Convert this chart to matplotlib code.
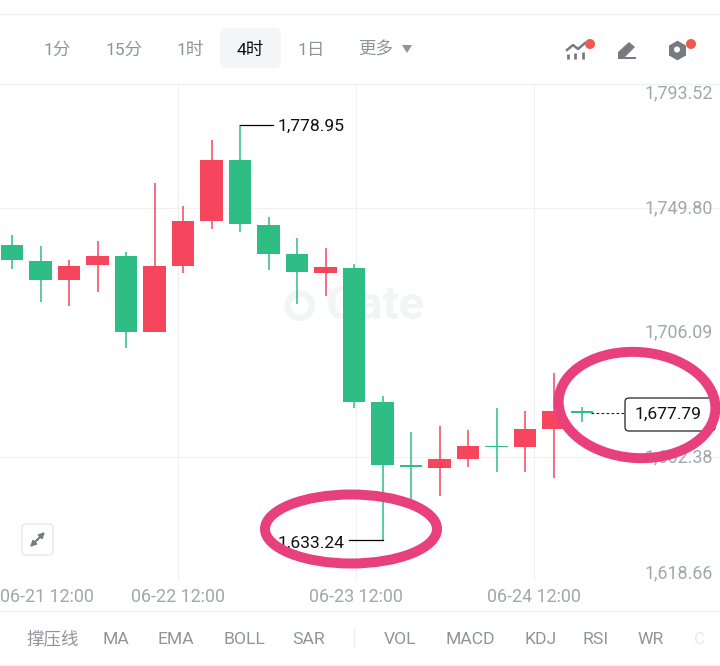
import numpy as np
import matplotlib
matplotlib.use('Agg')
import matplotlib.pyplot as plt
from matplotlib.patches import Ellipse, FancyBboxPatch, Circle, Polygon

plt.rcParams['font.family'] = ['Roboto', 'Noto Sans CJK SC', 'DejaVu Sans']

opens = [1736.8, 1731.3, 1724.5, 1729.7, 1733.0, 1706.2, 1729.4, 1745.3, 1766.5, 1743.9, 1733.6,
         1727.0, 1728.9, 1681.7, 1659.6, 1658.7, 1661.7, 1666.3, 1665.9, 1672.4, 1678.5]
highs = [1740.3, 1736.5, 1731.6, 1738.3, 1734.4, 1758.5, 1750.5, 1773.7, 1778.95, 1746.6, 1739.2,
         1735.7, 1730.2, 1683.8, 1671.1, 1673.3, 1671.9, 1679.5, 1678.6, 1691.9, 1680.1]
lows = [1728.3, 1716.9, 1715.5, 1720.4, 1700.6, 1706.2, 1727.0, 1742.5, 1741.3, 1728.2, 1716.1,
        1719.0, 1679.7, 1633.24, 1644.1, 1648.9, 1659.0, 1657.1, 1657.3, 1655.0, 1674.6]
closes = [1731.5, 1724.5, 1729.6, 1733.1, 1706.2, 1729.3, 1745.2, 1766.5, 1744.1, 1733.6, 1727.3,
          1729.0, 1681.8, 1659.7, 1658.9, 1661.6, 1666.2, 1665.9, 1672.2, 1678.6, 1677.79]

price_ticks = [1793.52, 1749.80, 1706.09, 1662.38, 1618.66]
price_label_y = [93, 208, 332, 457, 573]
grid_prices = [1749.80, 1662.38]
date_labels = ['06-21 12:00', '06-22 12:00', '06-23 12:00', '06-24 12:00']
date_label_x = [46.5, 178, 356, 534]
date_grid = [5.82, 12.07, 18.32]
periods = ['1分', '15分', '1时', '4时', '1日', '更多']
period_x = [57, 124, 190, 250, 311, 376]
indicators = ['撑压线', 'MA', 'EMA', 'BOLL', 'SAR', 'VOL', 'MACD', 'KDJ', 'RSI', 'WR']
indicator_x = [53, 116, 176, 244, 309, 400, 470, 541, 596, 651]

GREEN = '#2ebd85'
RED = '#f6465d'
GREY = '#8f9499'
TICK = '#a3a6aa'
PINK = '#e8407c'
LINE = '#eff0f2'
ICON = '#777b80'

fig = plt.figure(figsize=(7.2, 6.66), dpi=100)

# price axes fills the whole figure, 28.5 px per candle and 2.85 px per unit
ax = fig.add_axes([0, 0, 1, 1])
ax.set_xlim(-12 / 28.5, 708 / 28.5)
ax.set_ylim(1589.1, 1822.78)
ax.axis('off')

# pixel axes for the app chrome
ui = fig.add_axes([0, 0, 1, 1], zorder=2)
ui.set_xlim(0, 720)
ui.set_ylim(666, 0)
ui.axis('off')
ui.patch.set_alpha(0)

for p in grid_prices:
    ax.axhline(p, color=LINE, lw=0.8, zorder=1)
ax.vlines(date_grid, 1619.3, 1793.3, color=LINE, lw=0.8, zorder=1)

# watermark
ax.add_patch(Ellipse((10.1, 1715.5), 0.85, 8.5, fill=False, ec='#f3f4f4', lw=4.5, zorder=1.5))
ax.text(12.75, 1715.5, 'Gate', fontsize=34, fontweight='bold', color='#f3f4f4',
        ha='center', va='center', zorder=1.5)

idx = np.arange(len(opens))
o = np.array(opens)
c = np.array(closes)
up = c > o
colors = [RED if u else GREEN for u in up]

ax.vlines(idx, lows, highs, color=colors, lw=1.3, zorder=2, alpha=0.85)
ax.bar(idx, np.abs(c - o), bottom=np.minimum(o, c), width=0.8, color=colors, zorder=3)

# high / low callouts
hi_i = int(np.argmax(highs))
lo_i = int(np.argmin(lows))
ax.annotate(f'{highs[hi_i]:,.2f}', xy=(hi_i, highs[hi_i]), xytext=(38, -1), textcoords='offset pixels',
            fontsize=12.6, color='#111111', va='center', zorder=4)
ax.plot([hi_i, hi_i + 1.16], [highs[hi_i], highs[hi_i]], color='black', lw=0.9, zorder=4)
ax.annotate(f'{lows[lo_i]:,.2f}', xy=(lo_i, lows[lo_i]), xytext=(-38, -3), textcoords='offset pixels',
            fontsize=12.6, color='#111111', va='center', ha='right', zorder=4)
ax.plot([lo_i - 1.16, lo_i], [lows[lo_i], lows[lo_i]], color='black', lw=0.9, zorder=4)

# last price line and box
ax.plot([idx[-1] + 0.3, 21.53], [closes[-1], closes[-1]], color='#222222', lw=0.8, ls=(0, (2.5, 2)), zorder=4)
ui.add_patch(FancyBboxPatch((625, 398), 90, 33, boxstyle='round,pad=0,rounding_size=4',
                            fc='white', ec='#222222', lw=0.9, zorder=3))
ui.text(668, 414, f'{closes[-1]:,.2f}', fontsize=12.6, color='#111111', ha='center', va='center', zorder=4)

# tick labels sit clamped inside the chart, so they go by pixel
for y, p in zip(price_label_y, price_ticks):
    ui.text(713, y, f'{p:,.2f}', fontsize=12.9, color=TICK, ha='right', va='center', zorder=2)

for x, s in zip(date_label_x, date_labels):
    ui.text(x, 597, s, fontsize=12.9, color=TICK, ha='center', va='center')

# circled highlights
ui.add_patch(Ellipse((351, 529), 172, 69, fill=False, ec=PINK, lw=7.2, zorder=5))
ui.add_patch(Ellipse((637, 405), 157, 106, angle=4, fill=False, ec=PINK, lw=7.2, zorder=5))

# toolbars
ui.axhline(14, color=LINE, lw=1)
ui.axhline(83.5, color=LINE, lw=1)
ui.axhline(611, color=LINE, lw=1)
ui.axhline(665, color=LINE, lw=1)
ui.add_patch(FancyBboxPatch((220, 28), 61, 40, boxstyle='round,pad=0,rounding_size=7',
                            fc='#f4f5f6', ec='none', zorder=1))
for x, s in zip(period_x, periods):
    ui.text(x, 50, s, fontsize=12.6, ha='center', va='center',
            color='#111111' if s == '4时' else GREY, zorder=2)
ui.add_patch(Polygon([(402, 45), (412, 45), (407, 53)], fc=GREY, ec='none'))

# chart icon
ui.plot([567, 573, 578, 585], [50, 45, 49, 43], color=ICON, lw=1.8)
ui.vlines([568, 575, 583], [54, 53, 52], [59, 59, 59], color=ICON, lw=2)
ui.add_patch(Circle((590, 44), 5, fc='#ee5a4d', ec='none', zorder=3))
# pencil icon
ui.add_patch(Polygon([(618, 52), (629, 42), (635, 47), (625, 57), (636, 57), (636, 59), (618, 59)], fc=ICON, ec='none'))
# gear icon
ui.plot([677], [49.5], marker=(6, 0, 0), ms=13, color=ICON, mec=ICON, ls='none')
ui.plot([677], [49.5], marker='h', ms=12, color=ICON, mec=ICON, ls='none')
ui.add_patch(Circle((677, 49.5), 3, fc='white', ec='none', zorder=3))
ui.add_patch(Circle((691, 44), 5, fc='#ee5a4d', ec='none', zorder=3))

# expand button
ui.add_patch(FancyBboxPatch((22, 524), 31, 31, boxstyle='round,pad=0,rounding_size=4',
                            fc='white', ec='#e6e7e9', lw=1))
ui.annotate('', xy=(45, 532), xytext=(37, 540), arrowprops=dict(arrowstyle='-|>', color=ICON, lw=1.4, mutation_scale=8, shrinkA=0, shrinkB=0))
ui.annotate('', xy=(30, 547), xytext=(38, 539), arrowprops=dict(arrowstyle='-|>', color=ICON, lw=1.4, mutation_scale=8, shrinkA=0, shrinkB=0))

# indicator bar
for x, s in zip(indicator_x, indicators):
    ui.text(x, 639, s, fontsize=12.6, color=GREY, ha='center', va='center')
ui.text(700, 639, 'C', fontsize=12.6, color='#e8e9ea', ha='center', va='center')
ui.vlines(354, 628, 648, color=LINE, lw=1)

fig.savefig('out.png', dpi=100)
